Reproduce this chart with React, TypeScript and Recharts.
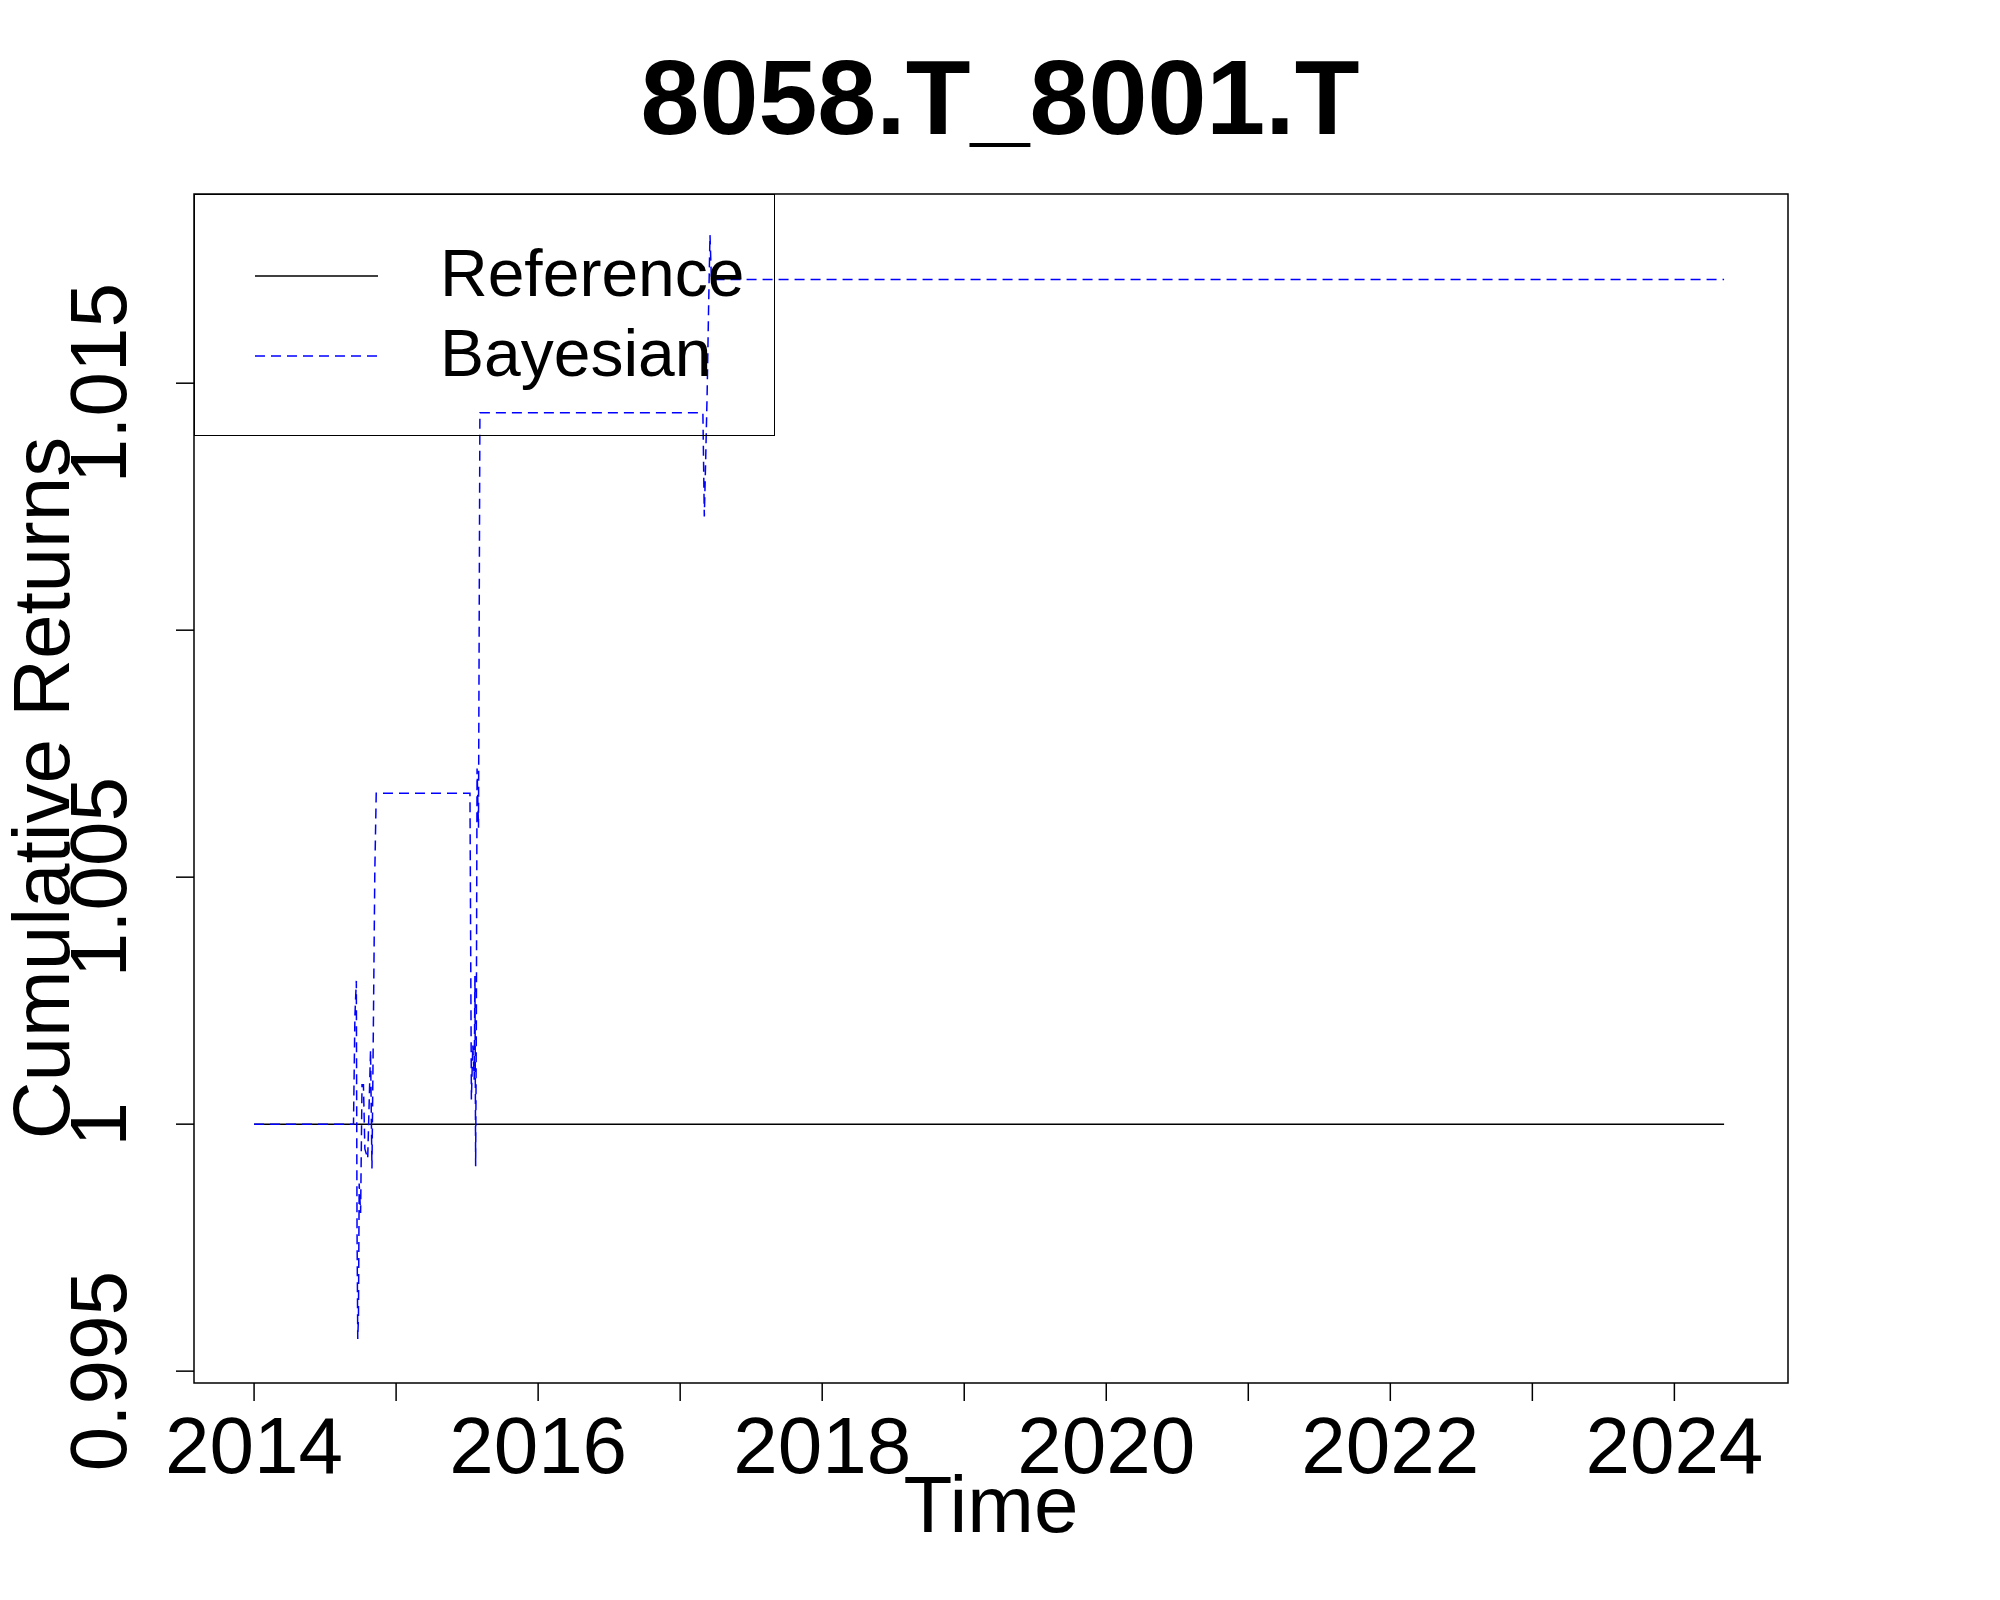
import { Line, LineChart, ReferenceArea, XAxis, YAxis } from 'recharts';

const times = [
    2014.0, 2014.7, 2014.71, 2014.72, 2014.725, 2014.73, 2014.735, 2014.74, 2014.75, 2014.76, 2014.77, 2014.78, 2014.8,
    2014.82, 2014.83, 2014.84, 2014.85, 2014.86, 2015.52, 2015.53, 2015.54, 2015.55, 2015.555, 2015.56, 2015.565, 2015.57,
    2015.58, 2015.59, 2017.16, 2017.17, 2017.18, 2017.19, 2017.2, 2017.21, 2017.22, 2024.35,
];
const bayesian = [
    1.0, 1.0, 1.0022, 1.0029, 0.9978, 0.99565, 0.9961, 0.9988, 0.9982, 1.0008, 1.0008, 0.9995, 0.9993, 1.0015, 0.9991,
    1.002, 1.0051, 1.0067, 1.0067, 1.0005, 1.0016, 1.0009, 1.003, 0.99915, 1.0021, 1.0072, 1.006, 1.0144, 1.0144, 1.0123,
    1.0135, 1.0148, 1.0165, 1.018, 1.0171, 1.0171,
];
const reference = times.map(() => 1);
const yearTicks = [2014, 2015, 2016, 2017, 2018, 2019, 2020, 2021, 2022, 2023, 2024];
const yTicks = [0.995, 1, 1.005, 1.01, 1.015];
const yLabels = ['0.995', '1', '1.005', '', '1.015'];

const data = times.map((t, i) => ({ t, reference: reference[i], bayesian: bayesian[i] }));

const font = '"Liberation Sans", Arial, sans-serif';

const XTick = ({ x, y, payload }: any) => (
    <g>
        <line x1={x} x2={x} y1={y - 8} y2={y + 10} stroke="#000" strokeWidth={1.5} />
        {payload.value % 2 === 0 && (
            <text x={x} y={y + 82} textAnchor="middle" fontSize={80} fontFamily={font}>
                {payload.value}
            </text>
        )}
    </g>
);

const YTick = ({ x, y, payload, index, side }: any) => {
    const dir = side === 'left' ? -1 : 1;
    const lx = side === 'left' ? x - 60 : x + 58;
    return (
        <g>
            <line x1={x - dir * 8} x2={x + dir * 10} y1={y} y2={y} stroke="#000" strokeWidth={1.5} />
            <text
                x={lx}
                y={y}
                textAnchor="middle"
                fontSize={80}
                fontFamily={font}
                transform={`rotate(-90 ${lx} ${y})`}
            >
                {yLabels[index]}
            </text>
        </g>
    );
};

export default function App() {
    return (
        <div style={{ position: 'absolute', left: 0, top: 0, width: 2000, height: 1600, background: '#fff', fontFamily: font }}>
            <LineChart width={2000} height={1600} data={data} margin={{ top: 194, right: 0, bottom: 0, left: 0 }}>
                <XAxis
                    dataKey="t"
                    type="number"
                    domain={[2013.577, 2024.8]}
                    ticks={yearTicks}
                    axisLine={false}
                    tickLine={false}
                    tick={<XTick />}
                    height={217}
                    interval={0}
                />
                <YAxis
                    yAxisId="l"
                    domain={[0.99476, 1.01883]}
                    ticks={yTicks}
                    axisLine={false}
                    tickLine={false}
                    tick={<YTick side="left" />}
                    width={194}
                    interval={0}
                />
                <YAxis
                    yAxisId="r"
                    orientation="right"
                    domain={[0.99476, 1.01883]}
                    ticks={yTicks}
                    axisLine={false}
                    tickLine={false}
                    tick={<YTick side="right" />}
                    width={212}
                    interval={0}
                />
                <ReferenceArea
                    yAxisId="l"
                    x1={2013.577}
                    x2={2024.8}
                    y1={0.99476}
                    y2={1.01883}
                    fill="none"
                    stroke="#000"
                    strokeWidth={1.5}
                />
                <Line yAxisId="l" dataKey="reference" stroke="#000" strokeWidth={1.5} dot={false} isAnimationActive={false} />
                <Line
                    yAxisId="l"
                    dataKey="bayesian"
                    stroke="#0000ff"
                    strokeWidth={1.5}
                    strokeDasharray="10 6"
                    dot={false}
                    isAnimationActive={false}
                />
            </LineChart>
            <div style={{ position: 'absolute', top: 42, width: 2000, textAlign: 'center', fontSize: 106, fontWeight: 'bold', lineHeight: '110px' }}>
                8058.T_8001.T
            </div>
            <div style={{ position: 'absolute', top: 1460, left: 194, width: 1594, textAlign: 'center', fontSize: 80, lineHeight: '90px' }}>
                Time
            </div>
            <div
                style={{
                    position: 'absolute',
                    left: 42,
                    top: 788,
                    fontSize: 80,
                    lineHeight: '90px',
                    whiteSpace: 'nowrap',
                    transform: 'translate(-50%, -50%) rotate(-90deg)',
                }}
            >
                Cumulative Returns
            </div>
            <div style={{ position: 'absolute', left: 194, top: 194, width: 581, height: 242, boxSizing: 'border-box', border: '1.5px solid #000', background: 'transparent' }}>
                <svg width={200} height={242} style={{ position: 'absolute', left: 0, top: 0 }}>
                    <line x1={60} x2={183} y1={81} y2={81} stroke="#000" strokeWidth={1.5} />
                    <line x1={60} x2={183} y1={161} y2={161} stroke="#0000ff" strokeWidth={1.5} strokeDasharray="10 6" />
                </svg>
                <div style={{ position: 'absolute', left: 245, top: 38, fontSize: 66, lineHeight: '80px' }}>Reference</div>
                <div style={{ position: 'absolute', left: 245, top: 118, fontSize: 66, lineHeight: '80px' }}>Bayesian</div>
            </div>
        </div>
    );
}
